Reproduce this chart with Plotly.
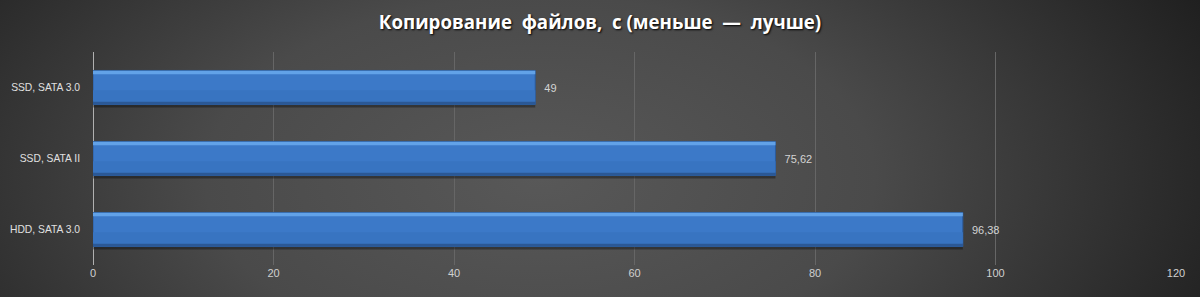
import plotly.graph_objects as go
import urllib.parse

categories = ["SSD, SATA 3.0", "SSD, SATA II", "HDD, SATA 3.0"]
values = [49, 75.62, 96.38]
x_ticks = [0, 20, 40, 60, 80, 100, 120]
title_text = "Копирование&nbsp; файлов,&nbsp; с (меньше&nbsp; —&nbsp; лучше)"

svg = (
    "<svg xmlns='http://www.w3.org/2000/svg' width='1200' height='297' viewBox='0 0 1200 297' preserveAspectRatio='none'>"
    "<defs><radialGradient id='g' cx='0.45' cy='0.6' r='0.62' gradientUnits='objectBoundingBox' "
    "gradientTransform='translate(0.45 0.6) scale(1 2.2) translate(-0.45 -0.6)'>"
    "<stop offset='0' stop-color='#585858'/><stop offset='0.45' stop-color='#4a4a4a'/>"
    "<stop offset='1' stop-color='#1f1f1f'/></radialGradient></defs>"
    "<rect width='1200' height='297' fill='url(#g)'/></svg>"
)
bg_uri = "data:image/svg+xml;charset=utf-8," + urllib.parse.quote(svg)

fig = go.Figure()
# shadow
fig.add_trace(go.Bar(y=categories, x=values, orientation="h", width=0.5, offset=-0.22,
                     marker=dict(color="rgba(0,0,0,0.35)", line=dict(width=0)),
                     hoverinfo="skip", showlegend=False))
# main bar
fig.add_trace(go.Bar(y=categories, x=values, orientation="h", width=0.48, offset=-0.24,
                     marker=dict(color="#3c79c8", line=dict(color="#2d5c9c", width=1)),
                     texttemplate="&nbsp;&nbsp;%{x}", textposition="outside", cliponaxis=False,
                     textfont=dict(color="#d4d4d4", size=11, family="Liberation Sans"),
                     showlegend=False))
# lower gradient part
fig.add_trace(go.Bar(y=categories, x=values, orientation="h", width=0.16, offset=0.04,
                     marker=dict(color="#3874c1", line=dict(width=0)),
                     hoverinfo="skip", showlegend=False))
# top highlight
fig.add_trace(go.Bar(y=categories, x=values, orientation="h", width=0.05, offset=-0.235,
                     marker=dict(color="#62a2e8", line=dict(width=0)),
                     hoverinfo="skip", showlegend=False))
# bottom dark edge
fig.add_trace(go.Bar(y=categories, x=values, orientation="h", width=0.035, offset=0.2,
                     marker=dict(color="#2b5895", line=dict(width=0)),
                     hoverinfo="skip", showlegend=False))

fig.update_layout(
    width=1200, height=297,
    margin=dict(l=93, r=24, t=52, b=32, autoexpand=False),
    paper_bgcolor="#2a2a2a", plot_bgcolor="rgba(0,0,0,0)",
    barmode="overlay", separators=", ",
    images=[dict(source=bg_uri, xref="paper", yref="paper", x=-93/1083, y=1+52/213,
                 sizex=1200/1083, sizey=297/213, sizing="stretch",
                 xanchor="left", yanchor="top", layer="below")],
    title=dict(text=title_text, x=0.5, xref="container", xanchor="center", y=0.925, yanchor="middle",
               font=dict(family="Open Sans", size=18.7, color="#ffffff", weight="bold",
                         shadow="1px 1px 2px #000000")),
    xaxis=dict(range=[0, 120], tickvals=x_ticks, showgrid=True, gridcolor="#666666", gridwidth=1,
               zeroline=True, zerolinecolor="#b0b0b0", zerolinewidth=1, showline=False,
               automargin=False,
               tickfont=dict(color="#d0d0d0", size=11, family="Liberation Sans"), ticks=""),
    yaxis=dict(categoryorder="array", categoryarray=categories, autorange="reversed",
               showgrid=False, ticks="", ticklabelstandoff=12, showline=False, automargin=False,
               tickfont=dict(color="#e0e0e0", size=10.3, family="Liberation Sans")),
)

fig.write_html("out.html")
